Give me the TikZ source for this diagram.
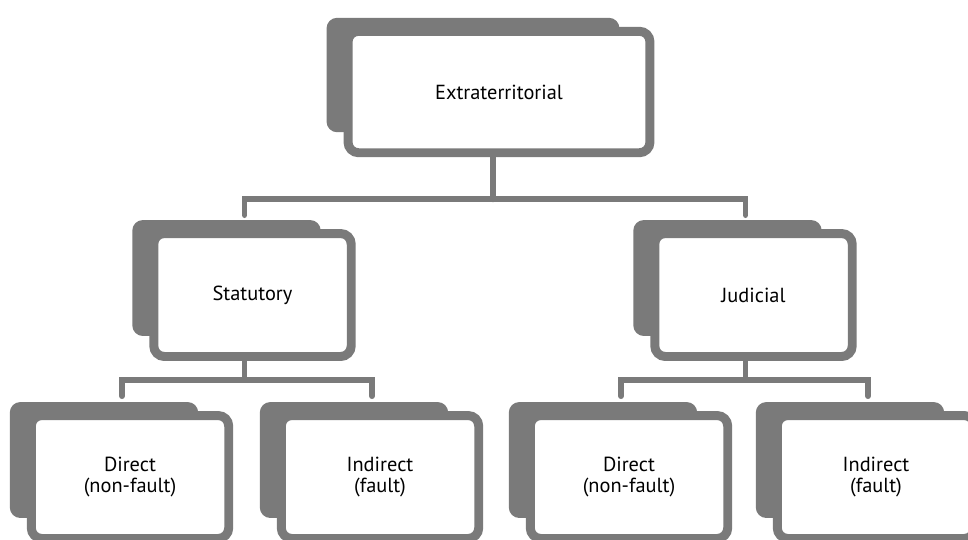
\documentclass[tikz,border=0pt]{standalone}
\usepackage{fontspec}
\setmainfont{PT Sans}
\usetikzlibrary{calc,backgrounds}
\definecolor{boxgray}{RGB}{122,122,122}

\begin{document}
\begin{tikzpicture}[x=0.02cm, y=-0.02cm,
    box/.style={draw=boxgray, line width=5.1pt, fill=white, rounded corners=6pt,
        minimum width=3.95cm, minimum height=2.46cm, align=center,
        font=\fontsize{11.6}{12}\selectfont},
    link/.style={draw=boxgray, line width=3.4pt, line cap=round}]
\useasboundingbox (0,0) rectangle (968,539);
\clip (0,0) rectangle (968,539);
\node[box, minimum width=6.04cm, minimum height=2.43cm] (ext) at (499,92) {Extraterritorial};
\node[box] (stat) at (252.5,295) {Statutory};
\node[box] (jud) at (753.5,295) {Judicial};
\node[box] (statdir) at (130,477) {Direct\\(non-fault)};
\node[box] (statind) at (380,477) {Indirect\\(fault)};
\node[box] (juddir) at (629,477) {Direct\\(non-fault)};
\node[box] (judind) at (876,477) {Indirect\\(fault)};
\begin{scope}[on background layer]
\foreach \n in {ext,stat,jud,statdir,statind,juddir,judind}
{
    \fill[boxgray, rounded corners=6pt] ($(\n.north west)+(-17,-9)$) rectangle ($(\n.south east)+(-35,-25)$);
}
\end{scope}
\coordinate (topbar) at ($(ext.south)+(-6,42)$);
\draw[link] ($(ext.south)+(-6,0)$) -- (topbar);
\draw[link] ($(stat.north)+(-8,-14)$) |- (topbar) -| ($(jud.north)+(-8,-14)$);
\foreach \p/\a/\b in {stat/statdir/statind, jud/juddir/judind}
{
    \coordinate (\p bar) at ($(\p.south)+(-8,19)$);
    \draw[link] ($(\p.south)+(-8,0)$) -- (\p bar);
    \draw[link] ($(\a.north)+(-8,-15)$) |- (\p bar) -| ($(\b.north)+(-8,-15)$);
}
\end{tikzpicture}
\end{document}
